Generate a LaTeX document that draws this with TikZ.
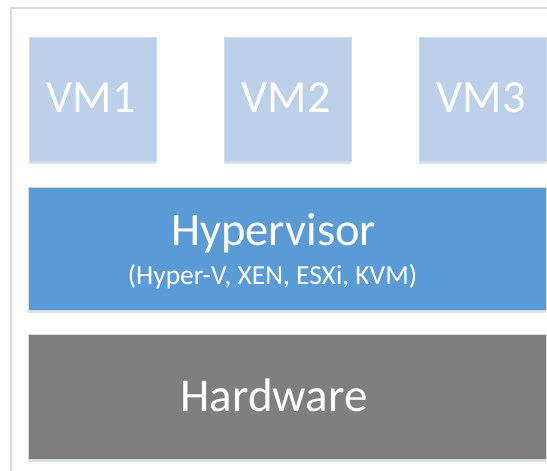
\documentclass[tikz,border=0pt]{standalone}
\usepackage{fontspec}
\setmainfont{Carlito}
\usetikzlibrary{shadows}
\definecolor{vmfill}{HTML}{BDD0E9}
\definecolor{hvfill}{HTML}{5B9BD5}
\definecolor{hwfill}{HTML}{7F7F7F}
\definecolor{framegray}{HTML}{D9D9D9}
\definecolor{shadowblue}{HTML}{D3E1F1}
\tikzset{
  layer/.style={rectangle, inner sep=0pt, draw=white!85!black, line width=0.5pt,
    drop shadow={shadow xshift=0pt, shadow yshift=-2.5pt, fill=shadowblue, opacity=0.9}},
  vmbox/.style={layer, fill=vmfill, minimum width=127pt, minimum height=124pt},
  wide/.style={layer, minimum width=518pt, minimum height=124pt},
  lbl/.style={text=white, anchor=base, inner sep=0pt}
}
\begin{document}
\begin{tikzpicture}[x=1pt,y=-1pt]
\useasboundingbox (0,0) rectangle (547,471);
\fill[white] (0,0) rectangle (547,471);
\draw[framegray, line width=1.5pt] (11,480) -- (11,8) -- (560,8);
\node[vmbox] (vm1) at (92.5,99) {};
\node[vmbox] (vm2) at (287.5,99) {};
\node[vmbox] (vm3) at (482.5,99) {};
\node[wide, fill=hvfill, minimum height=123pt] (hv) at (287,248.5) {};
\node[wide, fill=hwfill, minimum height=125pt] (hw) at (287,396.5) {};
\node[lbl, font=\fontsize{46}{50}\selectfont] (t1) at (91,112) {VM1};
\node[lbl, font=\fontsize{46}{50}\selectfont] (t2) at (286,112) {VM2};
\node[lbl, font=\fontsize{46}{50}\selectfont] (t3) at (481,112) {VM3};
\node[lbl, font=\fontsize{46.5}{50}\selectfont] (th) at (273.5,245) {Hypervisor};
\node[lbl, font=\fontsize{27.5}{30}\selectfont] (ts) at (272.5,284) {(Hyper-V, XEN, ESXi, KVM)};
\node[lbl, font=\fontsize{47}{50}\selectfont] (tw) at (274,411) {Hardware};
\end{tikzpicture}
\end{document}
